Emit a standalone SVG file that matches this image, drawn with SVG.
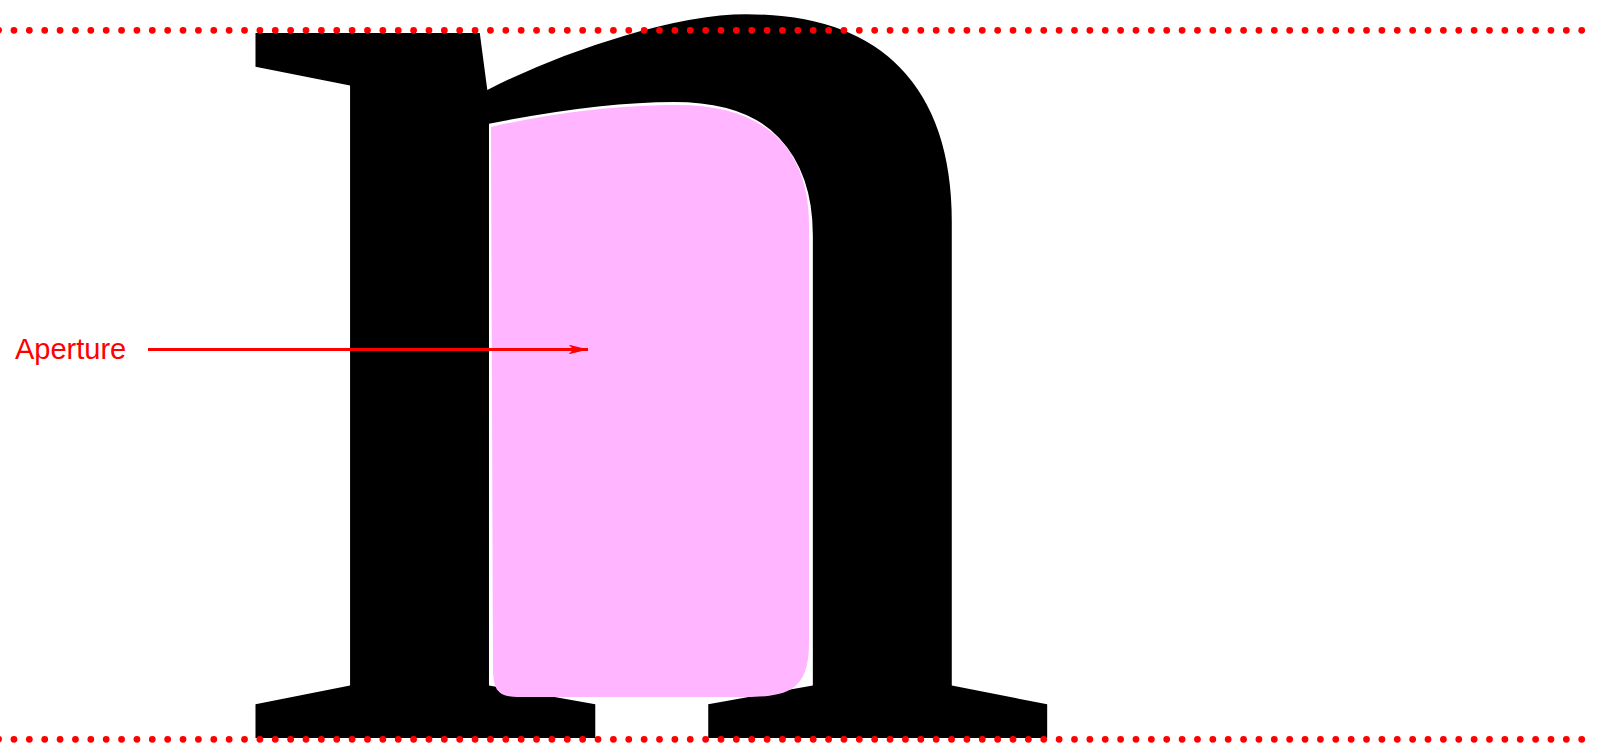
<svg xmlns="http://www.w3.org/2000/svg" width="1599" height="744" viewBox="0 0 1599 744">
<style>
.glyph{font-family:"Liberation Serif","Times New Roman",serif;font-size:1600px;fill:#000}
.guide{stroke:#ff0000;stroke-width:6.8;stroke-linecap:round;stroke-dasharray:0 15.37;fill:none}
.label{font-family:"Liberation Sans",Arial,sans-serif;font-size:29px;fill:#ff0000}
.aperture{fill:#ffb5ff}
.conn{stroke:#ff0000;stroke-width:3;fill:none}
</style>
<defs>
<marker id="arrow" viewBox="0 0 20 10" refX="20" refY="5" markerWidth="6.5" markerHeight="3.3" markerUnits="strokeWidth" orient="auto">
<path d="M0,0 L20,5 L0,10 L5,5 Z" fill="#ff0000"/>
</marker>
</defs>
<rect width="1599" height="744" fill="#ffffff"/>
<g id="letter">
<text class="glyph" x="201.8" y="768.75" transform="scale(1.0712,0.96)">n</text>
</g>
<g id="aperture">
<path class="aperture" d="M491,127 C530,118 600,105 677,105 C760,105 809,143 809,226 L809,642 C809,689 790,697 745,697 L520,697 C498,697 494,691 493,671 Z"/>
</g>
<g id="guides">
<line class="guide" x1="-1.4" y1="30.3" x2="1583" y2="30.3"/>
<line class="guide" x1="-1.4" y1="739.3" x2="1583" y2="739.3"/>
</g>
<g id="label-aperture">
<text class="label" x="15" y="359">Aperture</text>
</g>
<g id="connectors">
<line class="conn" x1="148" y1="349.5" x2="588" y2="349.5" marker-end="url(#arrow)"/>
</g>
</svg>
